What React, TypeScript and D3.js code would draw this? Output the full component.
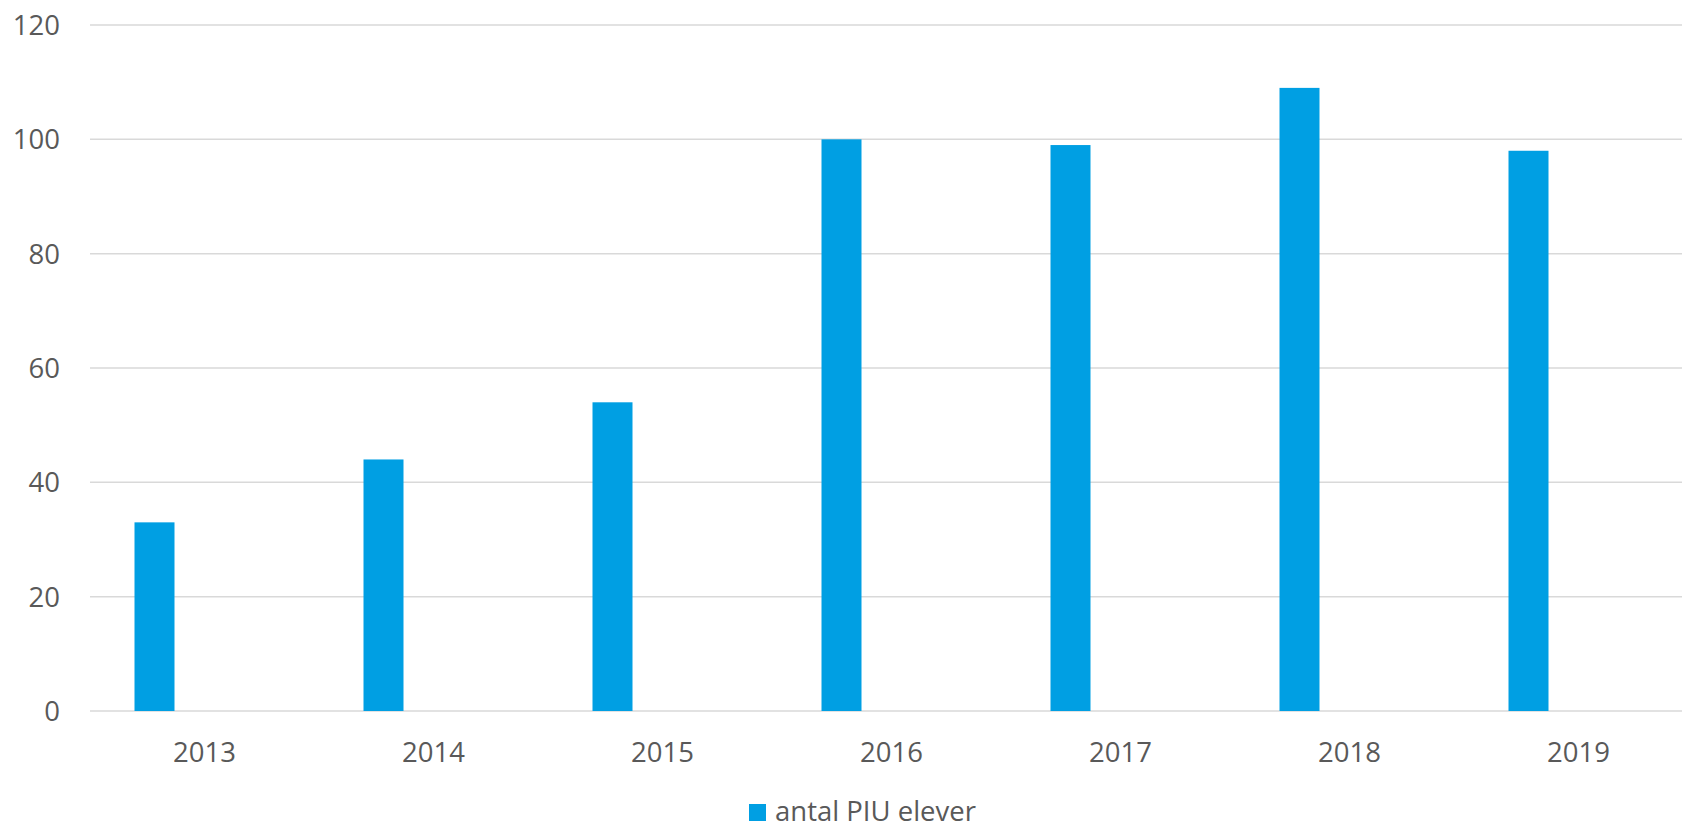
import React, { useRef, useEffect } from 'react';
import * as d3 from 'd3';

const years = ['2013', '2014', '2015', '2016', '2017', '2018', '2019'];
const piuValues = [33, 44, 54, 100, 99, 109, 98];
const seriesNames = ['antal PIU elever', ''];
const yTicks = [0, 20, 40, 60, 80, 100, 120];

const App: React.FC = () => {
    const svgRef = useRef<SVGSVGElement | null>(null);

    useEffect(() => {
        const svg = d3.select(svgRef.current);
        svg.selectAll('*').remove();

        const width = 1682;
        const height = 828;
        const margin = { top: 25, bottom: 117, left: 90 };
        const plotWidth = 1603; // plot runs past the right edge of the picture
        const font = '"Open Sans", sans-serif';
        const fontSize = 27.5;
        const textColor = '#595959';
        const barColor = '#009FE3';

        const x0 = d3
            .scaleBand()
            .domain(years)
            .range([margin.left, margin.left + plotWidth])
            .padding(0);

        const x1 = d3
            .scaleBand()
            .domain(seriesNames)
            .range([0, x0.bandwidth()])
            .paddingInner(0.6)
            .paddingOuter(0.445);

        const y = d3
            .scaleLinear()
            .domain([0, 120])
            .range([height - margin.bottom, margin.top]);

        // gridlines
        svg
            .append('g')
            .selectAll('line')
            .data(yTicks)
            .join('line')
            .attr('x1', margin.left)
            .attr('x2', width)
            .attr('y1', d => y(d))
            .attr('y2', d => y(d))
            .attr('stroke', '#d9d9d9')
            .attr('stroke-width', 1.5);

        // y labels
        svg
            .append('g')
            .selectAll('text')
            .data(yTicks)
            .join('text')
            .attr('x', 60)
            .attr('y', d => y(d))
            .attr('dy', '0.36em')
            .attr('text-anchor', 'end')
            .attr('font-family', font)
            .attr('font-size', fontSize)
            .attr('fill', textColor)
            .text(d => d);

        // bars
        svg
            .append('g')
            .selectAll('rect')
            .data(piuValues.map((v, i) => ({ year: years[i], v })))
            .join('rect')
            .attr('x', d => (x0(d.year) as number) + (x1(seriesNames[0]) as number))
            .attr('y', d => y(d.v))
            .attr('width', x1.bandwidth())
            .attr('height', d => y(0) - y(d.v))
            .attr('fill', barColor);

        // x labels
        svg
            .append('g')
            .selectAll('text')
            .data(years)
            .join('text')
            .attr('x', d => (x0(d) as number) + x0.bandwidth() / 2)
            .attr('y', 762)
            .attr('text-anchor', 'middle')
            .attr('font-family', font)
            .attr('font-size', fontSize)
            .attr('fill', textColor)
            .text(d => d);

        // legend
        const legend = svg.append('g');
        legend
            .append('rect')
            .attr('x', 749)
            .attr('y', 804)
            .attr('width', 17)
            .attr('height', 17)
            .attr('fill', barColor);
        legend
            .append('text')
            .attr('x', 775)
            .attr('y', 821)
            .attr('font-family', font)
            .attr('font-size', fontSize)
            .attr('fill', textColor)
            .text(seriesNames[0]);
    }, []);

    return (
        <svg
            ref={svgRef}
            width="1682"
            height="828"
            style={{ position: 'absolute', left: 0, top: 0, background: '#fff' }}
        />
    );
};

export default App;
